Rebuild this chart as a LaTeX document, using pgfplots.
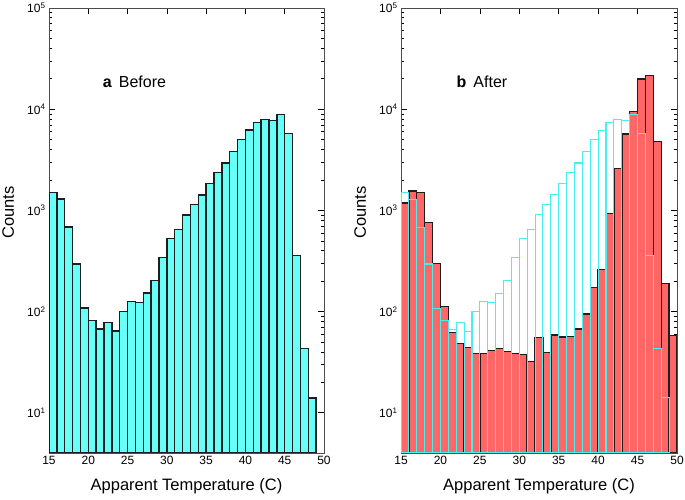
\documentclass[border=0pt]{standalone}
\usepackage{pgfplots}
\pgfplotsset{compat=1.18}
\usepackage{pgfplotstable}
\usepackage{fontspec}
\setmainfont{Liberation Sans}
\definecolor{cyanfill}{RGB}{104,255,248}
\definecolor{redfill}{RGB}{255,102,102}
\definecolor{cyanline}{RGB}{70,240,240}
\definecolor{barline}{RGB}{30,30,30}

\pgfplotstableread{
x y
15.5 1497
16.5 1290
17.5 683
18.5 295
19.5 108
20.5 82
21.5 67
22.5 78
23.5 64
24.5 100
25.5 125
26.5 123
27.5 152
28.5 202
29.5 340
30.5 525
31.5 647
32.5 902
33.5 1150
34.5 1423
35.5 1855
36.5 2378
37.5 2940
38.5 3800
39.5 4990
40.5 6210
41.5 7380
42.5 7960
43.5 7780
44.5 8920
45.5 5750
46.5 359
47.5 43
48.5 14
}\tblbefore

\pgfplotstableread{
x y
15.5 1178
16.5 1556
17.5 1497
18.5 758
19.5 297
20.5 112
21.5 62.5
22.5 48.4
23.5 44.2
24.5 38.5
25.5 38.5
26.5 41.3
27.5 42.9
28.5 40.1
29.5 38.5
30.5 37.4
31.5 32.1
32.5 55.5
33.5 39.2
34.5 58.5
35.5 55.8
36.5 57
37.5 67.5
38.5 95
39.5 174
40.5 259
41.5 925
42.5 2607
43.5 5680
44.5 9550
45.5 19900
46.5 21600
47.5 4800
48.5 189
49.5 58
}\tblafter

\begin{document}
\begin{tikzpicture}
\useasboundingbox (0,0) rectangle (685pt,500pt);
\begin{axis}[
    at={(49pt,47pt)}, anchor=south west,
    scale only axis,
    width=275pt, height=445pt,
    ymode=log, log origin y=infty,
    xmin=15, xmax=50, ymin=4, ymax=1e5,
    xtick={15,20,...,50},
    ytick={10,100,1000,10000,100000},
    yticklabels={10\textsuperscript{1},10\textsuperscript{2},10\textsuperscript{3},10\textsuperscript{4},10\textsuperscript{5}},
    /pgf/number format/assume math mode=true,
    tick align=inside,
    major tick length=6pt, minor tick length=3pt,
    tick style={black, line width=0.6pt},
    axis line style={line width=0.7pt, black!70},
    xticklabel style={font=\fontsize{12}{14}\selectfont},
    yticklabel style={font=\fontsize{12}{14}\selectfont},
    xlabel={Apparent Temperature (C)},
    ylabel={Counts},
    xlabel style={font=\fontsize{16.5}{19}\selectfont, at={(axis description cs:0.5,-0.074)}, anchor=center},
    ylabel style={font=\fontsize{16.5}{19}\selectfont, at={(axis description cs:-0.148,0.54)}, anchor=center},
  ]
\addplot[ybar, bar width=1, bar shift=0pt, fill=cyanfill, draw=none] table[x=x,y=y] {\tblbefore};
\addplot[ybar, bar width=1, bar shift=0pt, fill=none, draw=barline, line width=1.4pt] table[x=x,y=y] {\tblbefore};
\node[anchor=west, font=\fontsize{16}{19}\selectfont] at (axis cs:21.4,1.85e4) {\textbf{a}\, Before};
\end{axis}
\begin{axis}[
    at={(401pt,47pt)}, anchor=south west,
    scale only axis,
    width=276pt, height=445pt,
    ymode=log, log origin y=infty,
    xmin=15, xmax=50, ymin=4, ymax=1e5,
    xtick={15,20,...,50},
    ytick={10,100,1000,10000,100000},
    yticklabels={10\textsuperscript{1},10\textsuperscript{2},10\textsuperscript{3},10\textsuperscript{4},10\textsuperscript{5}},
    /pgf/number format/assume math mode=true,
    tick align=inside,
    major tick length=6pt, minor tick length=3pt,
    tick style={black, line width=0.6pt},
    axis line style={line width=0.7pt, black!70},
    xticklabel style={font=\fontsize{12}{14}\selectfont},
    yticklabel style={font=\fontsize{12}{14}\selectfont},
    xlabel={Apparent Temperature (C)},
    ylabel={Counts},
    xlabel style={font=\fontsize{16.5}{19}\selectfont, at={(axis description cs:0.5,-0.074)}, anchor=center},
    ylabel style={font=\fontsize{16.5}{19}\selectfont, at={(axis description cs:-0.148,0.54)}, anchor=center},
  ]
\addplot[ybar, bar width=1, bar shift=0pt, fill=redfill, draw=none] table[x=x,y=y] {\tblafter};
\addplot[ybar, bar width=1, bar shift=0pt, fill=none, draw=barline, line width=1.4pt] table[x=x,y=y] {\tblafter};
\addplot[ybar, bar width=1, bar shift=0pt, fill=none, draw=cyanline, line width=1.1pt] table[x=x,y=y] {\tblbefore};
\node[anchor=west, font=\fontsize{16}{19}\selectfont] at (axis cs:21.6,1.85e4) {\textbf{b}\, After};
\end{axis}
\end{tikzpicture}
\end{document}
